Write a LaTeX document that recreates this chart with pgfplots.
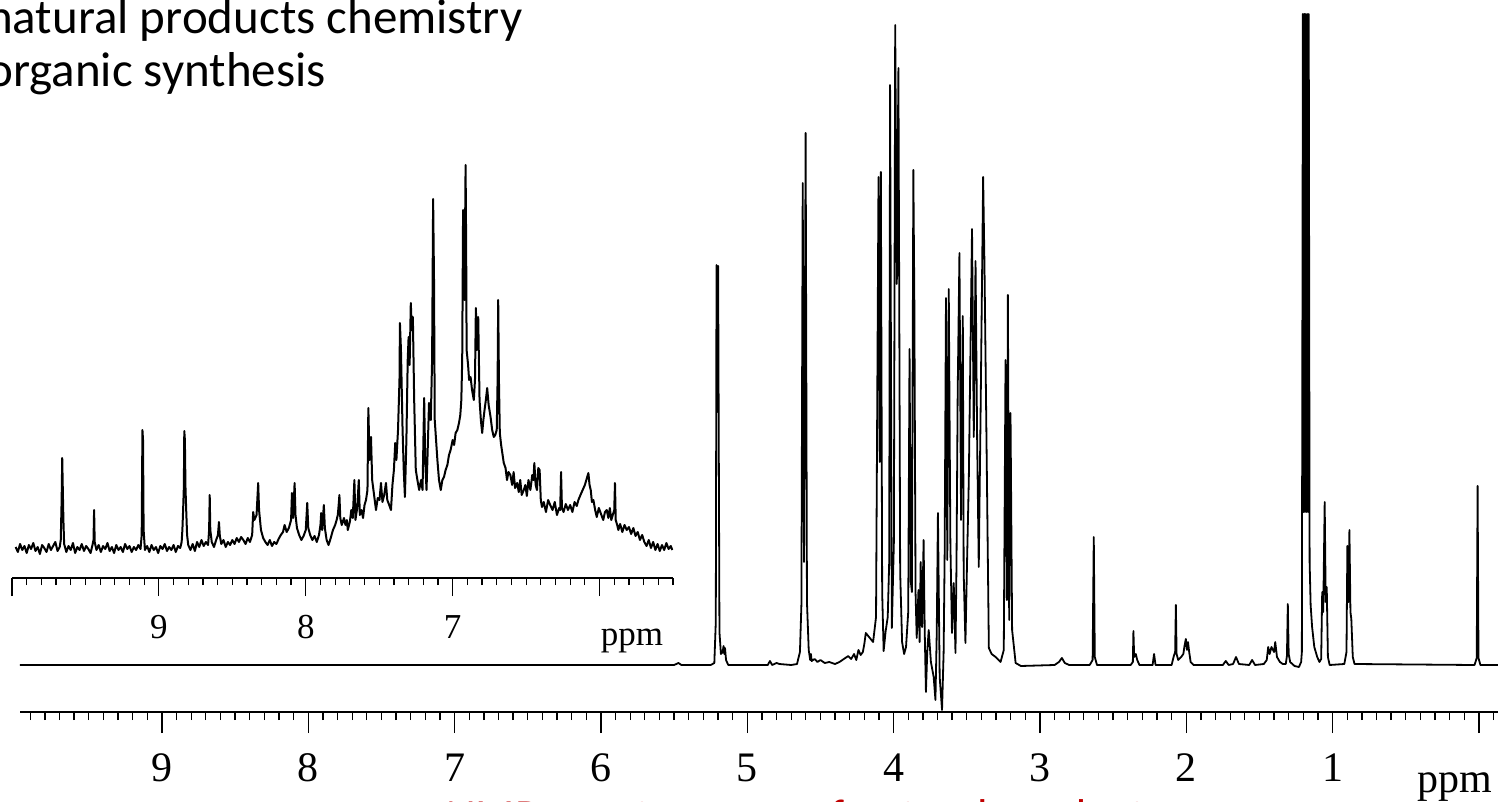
\documentclass[border=0pt]{standalone}
\usepackage{pgfplots}
\pgfplotsset{compat=1.18}
\usepackage{fontspec}
\setmainfont{Liberation Serif}
\newfontfamily\carlito{Carlito}
\definecolor{slidered}{HTML}{C00000}
\begin{document}
\begin{tikzpicture}[x=1pt,y=1pt]
\path[use as bounding box] (0,0) rectangle (1498,801);
% main spectrum
\begin{axis}[
  at={(20pt,89pt)}, anchor=south west,
  scale only axis, width=1478pt, height=712pt,
  xmin=-0.13, xmax=9.97, ymin=0, ymax=712,
  x dir=reverse,
  axis y line=none, axis x line*=bottom,
  axis line style={-, line width=1.4pt},
  xtick={0,1,2,3,4,5,6,7,8,9},
  xticklabels={,1,2,3,4,5,6,7,8,9},
  minor xtick={-0.1,0.1,0.2,0.3,0.4,0.5,0.6,0.7,0.8,0.9,1.1,1.2,1.3,1.4,1.5,1.6,1.7,1.8,1.9,2.1,2.2,2.3,2.4,2.5,2.6,2.7,2.8,2.9,3.1,3.2,3.3,3.4,3.5,3.6,3.7,3.8,3.9,4.1,4.2,4.3,4.4,4.5,4.6,4.7,4.8,4.9,5.1,5.2,5.3,5.4,5.5,5.6,5.7,5.8,5.9,6.1,6.2,6.3,6.4,6.5,6.6,6.7,6.8,6.9,7.1,7.2,7.3,7.4,7.5,7.6,7.7,7.8,7.9,8.1,8.2,8.3,8.4,8.5,8.6,8.7,8.8,8.9,9.1,9.2,9.3,9.4,9.5,9.6,9.7,9.8,9.9},
  tick align=outside,
  major tick length=21pt, minor tick length=8pt,
  tick style={black, line width=1.3pt},
  xticklabel style={font=\fontsize{42}{42}\selectfont, anchor=base, yshift=-48pt},
  clip=false,
]
\addplot[black, line width=1.8pt, line join=round] coordinates {
(9.97,47)(5.50,47)(5.47,49)(5.45,47)(5.25,47)(5.225,49)(5.215,90)(5.210,447)(5.205,300)(5.199,446)(5.190,80)(5.180,58)(5.168,60)(5.162,66)(5.157,58)(5.152,64)(5.145,52)(5.13,47)
(4.86,47)(4.845,51)(4.83,47)(4.80,49)(4.78,48)(4.70,47)(4.66,48)(4.64,60)(4.630,107)(4.621,529)(4.612,150)(4.601,579)(4.592,110)(4.580,62)(4.570,52)(4.565,58)(4.56,51)(4.54,53)(4.52,50)(4.50,52)(4.47,49)(4.44,50)(4.40,48)(4.37,50)(4.34,53)(4.31,56)(4.29,53)(4.27,58)(4.255,52)(4.24,62)(4.225,57)(4.21,60)(4.20,68)(4.19,79)(4.14,70)(4.12,95)
(4.103,535)(4.095,250)(4.087,540)(4.078,120)(4.068,61)(4.055,80)(4.040,95)(4.030,150)(4.024,627)(4.012,84)(3.998,170)(3.989,687)(3.978,428)(3.967,644)(3.955,140)(3.942,70)(3.928,58)(3.915,65)(3.900,100)(3.891,363)(3.882,130)(3.875,120)(3.865,542)(3.858,409)(3.850,120)(3.842,74)(3.830,122)(3.822,70)(3.815,150)(3.805,85)(3.795,172)(3.787,79)(3.779,20)(3.770,60)(3.760,82)(3.745,50)(3.726,35)(3.714,12)(3.705,80)(3.697,199)(3.685,35)(3.669,2)(3.658,60)(3.651,159)(3.642,414)(3.633,152)(3.623,423)(3.612,170)(3.601,79)(3.589,129)(3.577,59)(3.570,150)(3.562,319)(3.550,459)(3.539,192)(3.527,396)(3.521,139)(3.509,69)(3.498,150)(3.486,232)(3.464,483)(3.452,275)(3.440,451)(3.429,272)(3.418,145)(3.406,292)(3.388,535)(3.379,448)(3.361,219)(3.349,64)(3.33,58)(3.303,55)(3.269,50)(3.247,62)(3.235,352)(3.226,112)(3.219,417)(3.210,92)(3.201,299)(3.190,82)(3.166,49)(3.13,46)
(2.90,47)(2.87,50)(2.85,54)(2.83,49)(2.80,47)(2.66,47)(2.64,52)(2.632,175)(2.625,55)(2.61,47)(2.38,47)(2.365,50)(2.361,81)(2.356,55)(2.345,58)(2.335,52)(2.32,47)(2.23,47)(2.22,58)(2.21,47)(2.10,47)(2.085,56)(2.076,60)(2.071,107)(2.066,58)(2.055,52)(2.035,55)(2.02,58)(2.012,66)(2.003,73)(1.995,62)(1.988,70)(1.980,60)(1.97,50)(1.95,47)
(1.75,47)(1.73,51)(1.71,47)(1.68,48)(1.66,55)(1.64,48)(1.57,47)(1.55,52)(1.53,47)(1.47,48)(1.45,52)(1.44,65)(1.43,58)(1.418,65)(1.40,60)(1.392,70)(1.38,55)(1.36,50)(1.34,48)(1.32,48)(1.312,56)(1.306,108)(1.300,58)(1.29,50)(1.26,46)(1.23,45)(1.215,50)
(1.210,60)(1.203,698)(1.198,200)(1.193,698)(1.188,200)(1.183,698)(1.178,200)(1.173,698)(1.168,200)(1.163,698)(1.157,150)(1.150,107)(1.14,85)(1.125,65)(1.105,55)(1.09,50)(1.078,53)(1.071,120)(1.064,100)(1.054,210)(1.047,110)(1.040,125)(1.032,55)(1.02,47)
(0.92,48)(0.905,60)(0.899,166)(0.892,110)(0.885,182)(0.878,100)(0.872,93)(0.862,55)(0.85,48)(0.03,47)(0.015,54)(0.009,226)(0.003,54)(-0.01,47)(-0.13,47)
};
\node[anchor=base, font=\fontsize{42}{42}\selectfont] at (axis cs:0.164,0) [yshift=-80pt] {ppm};
\end{axis}
% inset spectrum
\begin{axis}[
  at={(12pt,223pt)}, anchor=south west,
  scale only axis, width=661pt, height=430pt,
  xmin=5.5, xmax=10, ymin=2, ymax=432,
  x dir=reverse,
  axis y line=none, axis x line*=bottom,
  axis line style={-, line width=1.3pt},
  xtick={6,7,8,9,10},
  xticklabels={,7,8,9,},
  minor xtick={5.5,5.6,5.7,5.8,5.9,6.1,6.2,6.3,6.4,6.5,6.6,6.7,6.8,6.9,7.1,7.2,7.3,7.4,7.5,7.6,7.7,7.8,7.9,8.1,8.2,8.3,8.4,8.5,8.6,8.7,8.8,8.9,9.1,9.2,9.3,9.4,9.5,9.6,9.7,9.8,9.9},
  tick align=outside,
  major tick length=18pt, minor tick length=7pt,
  tick style={black, line width=1.2pt},
  xticklabel style={font=\fontsize{35}{35}\selectfont, anchor=base, yshift=-42pt},
  clip=false,
]
\addplot[black, line width=2pt, line join=round] coordinates {
(9.975,33)(9.96,28)(9.945,36)(9.93,30)(9.915,34)(9.90,27)(9.885,35)(9.87,31)(9.855,37)(9.84,29)(9.825,33)(9.81,26)(9.795,35)(9.78,32)(9.765,28)(9.75,36)(9.735,30)(9.72,34)(9.705,38)(9.69,29)(9.675,33)
(9.668,40)(9.662,80)(9.658,122)(9.654,90)(9.650,60)(9.645,36)
(9.63,28)(9.615,34)(9.60,30)(9.585,37)(9.57,27)(9.555,33)(9.54,30)(9.525,36)(9.51,29)(9.495,34)(9.48,31)(9.465,27)(9.452,35)
(9.445,40)(9.441,70)(9.437,38)
(9.425,30)(9.41,35)(9.395,28)(9.38,34)(9.365,31)(9.35,37)(9.335,29)(9.32,33)(9.305,27)(9.29,35)(9.275,30)(9.26,33)(9.245,28)(9.23,36)(9.215,31)(9.20,34)(9.185,28)(9.17,33)(9.155,30)(9.14,35)(9.125,31)
(9.117,45)(9.112,150)(9.108,140)(9.104,50)
(9.095,30)(9.08,34)(9.065,28)(9.05,35)(9.035,30)(9.02,33)(9.005,27)(8.99,34)(8.975,31)(8.96,36)(8.945,29)(8.93,33)(8.915,30)(8.90,35)(8.885,28)(8.87,34)(8.855,32)(8.845,38)
(8.84,50)(8.835,70)(8.830,93)(8.827,149)(8.823,140)(8.819,93)(8.814,70)(8.808,45)
(8.80,35)(8.785,30)(8.77,36)(8.755,29)(8.74,38)(8.725,33)(8.71,40)(8.695,34)(8.68,38)(8.665,35)
(8.658,50)(8.654,85)(8.650,50)(8.64,38)(8.625,33)(8.61,40)(8.598,45)(8.591,58)(8.585,44)(8.575,36)(8.56,40)(8.545,33)(8.53,38)(8.515,35)(8.50,40)(8.485,36)(8.47,42)(8.455,38)(8.44,43)(8.425,40)(8.41,36)(8.395,42)(8.38,38)(8.365,45)(8.358,68)(8.350,60)(8.335,65)(8.324,97)(8.318,70)(8.305,50)(8.29,42)(8.275,38)(8.26,35)(8.245,40)(8.23,34)(8.215,38)(8.20,36)(8.185,41)(8.17,45)(8.155,48)(8.144,55)(8.13,48)(8.115,52)(8.10,60)(8.094,87)(8.086,62)(8.076,97)(8.070,65)(8.06,52)(8.045,45)(8.03,40)(8.015,44)(8.00,50)(7.99,77)(7.983,52)(7.97,45)(7.955,40)(7.94,44)(7.925,38)(7.91,45)(7.90,55)(7.895,67)(7.888,50)(7.877,75)(7.87,52)(7.858,40)(7.845,35)(7.83,42)(7.815,50)(7.80,55)(7.790,60)(7.782,65)(7.776,75)(7.771,85)(7.765,62)(7.755,55)(7.74,62)(7.73,55)(7.72,60)(7.714,50)(7.70,58)(7.69,70)(7.68,62)(7.669,100)(7.662,60)(7.65,72)(7.639,100)(7.632,65)(7.62,70)(7.61,62)(7.60,75)(7.59,80)(7.58,90)(7.574,172)(7.566,120)(7.556,143)(7.548,100)(7.535,85)(7.522,70)(7.51,82)(7.498,80)(7.488,97)(7.478,78)(7.466,85)(7.454,97)(7.445,80)(7.432,75)(7.42,70)(7.41,95)(7.40,110)(7.391,137)(7.383,120)(7.372,150)(7.362,200)(7.359,257)(7.352,230)(7.341,150)(7.333,110)(7.325,83)(7.315,140)(7.306,220)(7.300,243)(7.293,215)(7.285,277)(7.278,250)(7.271,263)(7.262,180)(7.251,110)(7.24,100)(7.228,90)(7.215,100)(7.205,90)(7.199,140)(7.194,182)(7.187,120)(7.178,90)(7.17,130)(7.161,177)(7.155,170)(7.149,160)(7.140,220)(7.133,381)(7.127,300)(7.122,160)(7.113,140)(7.104,120)(7.093,100)(7.081,90)(7.07,100)(7.059,103)(7.048,110)(7.036,115)(7.025,125)(7.014,130)(7.0,140)(6.990,135)(6.980,147)(6.968,150)(6.957,157)(6.948,165)(6.941,180)(6.935,220)(6.929,370)(6.924,340)(6.919,280)(6.915,360)(6.912,415)(6.908,330)(6.905,230)(6.895,215)(6.888,200)(6.878,203)(6.868,190)(6.856,180)(6.848,200)(6.842,272)(6.835,230)(6.826,263)(6.817,180)(6.808,160)(6.799,147)(6.791,160)(6.783,170)(6.774,180)(6.765,192)(6.755,175)(6.742,163)(6.731,150)(6.720,143)(6.710,145)(6.700,150)(6.694,200)(6.690,280)(6.685,200)(6.679,147)(6.67,135)(6.652,117)(6.64,112)(6.63,100)(6.62,108)(6.607,105)(6.595,95)(6.585,108)(6.575,92)(6.561,97)(6.55,88)(6.54,100)(6.53,85)(6.516,90)(6.505,95)(6.495,84)(6.484,100)(6.471,90)(6.458,105)(6.450,100)(6.444,117)(6.435,95)(6.426,90)(6.417,112)(6.408,110)(6.400,80)(6.392,73)(6.38,78)(6.365,68)(6.35,80)(6.336,75)(6.32,70)(6.305,78)(6.29,65)(6.275,72)(6.268,70)(6.262,108)(6.256,72)(6.245,68)(6.23,76)(6.215,70)(6.20,75)(6.185,68)(6.17,78)(6.155,74)(6.144,80)(6.13,85)(6.115,90)(6.100,95)(6.090,100)(6.076,107)(6.068,95)(6.06,90)(6.052,78)(6.042,80)(6.03,70)(6.019,63)(6.005,72)(5.99,66)(5.975,60)(5.963,68)(5.951,70)(5.94,62)(5.93,72)(5.92,60)(5.91,65)(5.900,70)(5.895,97)(5.890,60)(5.880,55)(5.872,50)(5.86,56)(5.845,48)(5.83,55)(5.815,50)(5.80,53)(5.785,46)(5.77,52)(5.755,44)(5.74,48)(5.725,40)(5.71,45)(5.695,38)(5.68,34)(5.665,40)(5.65,32)(5.635,38)(5.62,30)(5.605,36)(5.59,29)(5.575,35)(5.56,30)(5.545,37)(5.53,31)(5.515,34)(5.505,30)
};
\node[anchor=base, font=\fontsize{35}{35}\selectfont] at (axis cs:5.78,2) [yshift=-67pt] {ppm};
\end{axis}
% slide text
\node[anchor=base west, font=\carlito\fontsize{49}{49}\selectfont, inner sep=0pt] at (-13,767) {natural products chemistry};
\node[anchor=base west, font=\carlito\fontsize{49}{49}\selectfont, inner sep=0pt] at (-13,714) {organic synthesis};
\node[anchor=base west, font=\carlito\fontsize{46}{46}\selectfont, inner sep=0pt, text=slidered] at (446,-30) {NMR spectroscopy of natural products};
\end{tikzpicture}
\end{document}
